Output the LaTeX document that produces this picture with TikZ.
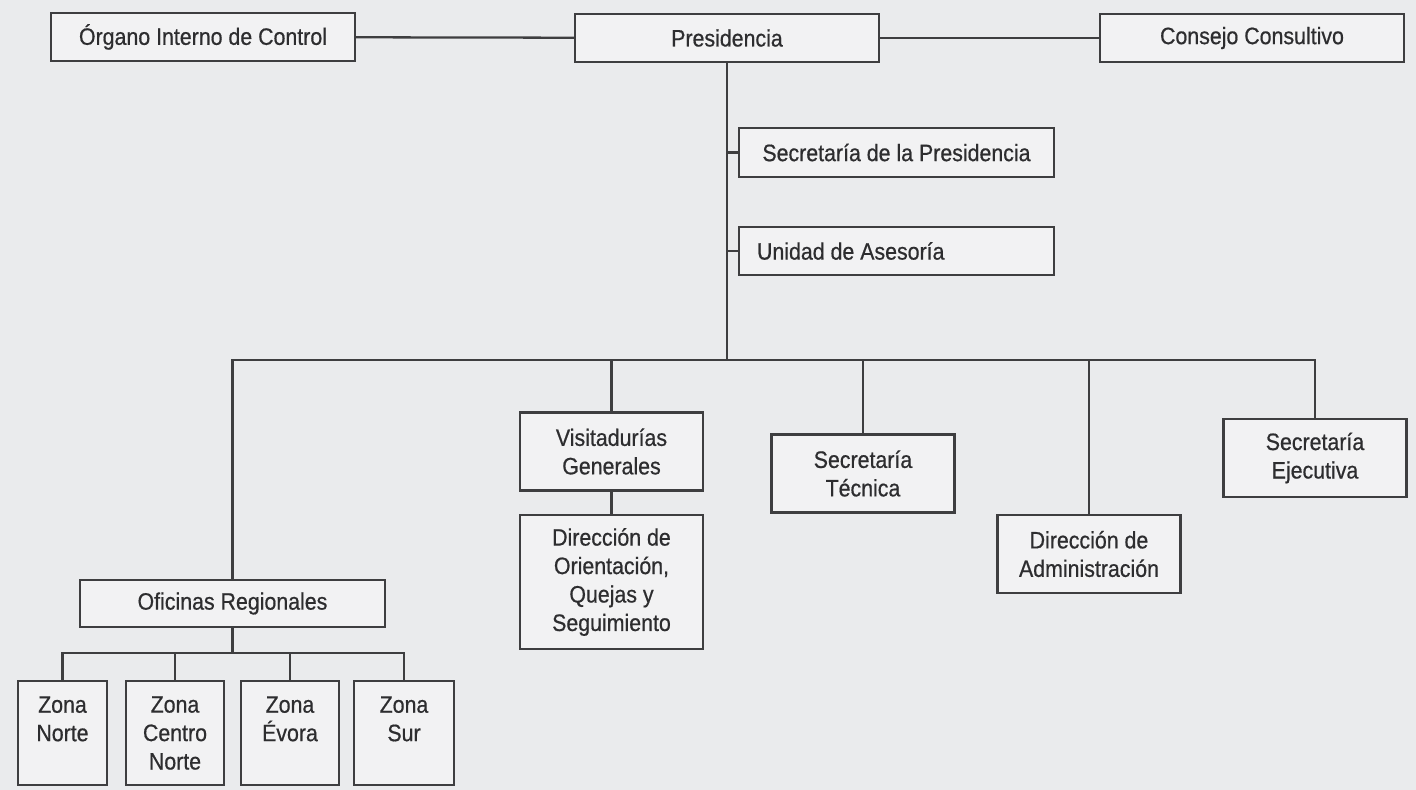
\documentclass[tikz,border=0pt]{standalone}
\usepackage{fontspec}
\usepackage{tikz}
\newfontfamily\orgfont{Liberation Sans}[FakeStretch=0.9,FakeBold=0.6]
\definecolor{fondo}{RGB}{234,235,237}
\definecolor{relleno}{RGB}{242,242,243}
\definecolor{linea}{RGB}{62,62,64}
\definecolor{texto}{RGB}{45,45,47}

\tikzset{
  caja/.style={draw=linea, line width=1.3pt, fill=relleno, text=texto,
    font=\orgfont\fontsize{13.5}{16.2}\selectfont, align=center, inner sep=0pt},
  cajatop/.style={caja, minimum width=6.08cm, minimum height=0.96cm},
  cajamed/.style={caja, minimum width=3.66cm, minimum height=1.56cm},
  zona/.style={caja, minimum height=2.08cm},
  rama/.style={draw=linea, line width=1.3pt}
}

\begin{document}
\begin{tikzpicture}[x=0.02cm, y=-0.02cm]
		\fill[fondo] (0,0) rectangle (1416,790);
		\useasboundingbox (0,0) rectangle (1416,790);

		% Primera fila
		\node[cajatop] (organo)  at (203,37)  {Órgano Interno de Control};
		\node[cajatop] (pres)    at (727,38)  {Presidencia};
		\node[cajatop] (consejo) at (1252,38) {Consejo Consultivo};

		% Apoyo de la presidencia
		\node[caja, minimum width=6.3cm, minimum height=0.98cm] (secpres) at (896.5,152.5) {Secretaría de la Presidencia};
		\node[caja, text width=5.58cm, inner xsep=0.36cm, minimum height=0.96cm, align=flush left] (unidad) at (896.5,251) {Unidad de Asesoría};

		% Segundo nivel
		\node[cajamed] (visit)   at (611.5,451.5) {Visitadurías\\Generales};
		\node[cajamed, minimum height=2.68cm] (dirqs) at (611.5,582) {Dirección de\\Orientación,\\Quejas y\\Seguimiento};
		\node[cajamed] (sectec)  at (863,473.5) {Secretaría\\Técnica};
		\node[cajamed] (diradm)  at (1089,554)  {Dirección de\\Administración};
		\node[cajamed] (secejec) at (1315,458)  {Secretaría\\Ejecutiva};
		\node[caja, minimum width=6.1cm, minimum height=0.94cm] (ofi) at (232.5,603.5) {Oficinas Regionales};

		% Zonas
		\node[zona, minimum width=1.78cm] (zn)   at (62.5,733) {Zona\\Norte\\\phantom{N}};
		\node[zona, minimum width=1.96cm] (zcn)  at (175,733)  {Zona\\Centro\\Norte};
		\node[zona, minimum width=1.96cm] (zev)  at (290,733)  {Zona\\Évora\\\phantom{N}};
		\node[zona, minimum width=2.0cm]  (zsur) at (404,733)  {Zona\\Sur\\\phantom{N}};

		% Puntos de las barras
		\path (pres.south) ++(0,297) coordinate (bus);
		\path (ofi.south) ++(0,25) coordinate (zb);

		\draw[rama] (organo) -- (pres);
		\draw[rama] (pres) -- (consejo);
		\draw[rama] (pres.south) -- (bus);
		\draw[rama] (secpres.west) -- (secpres.west -| pres.south);
		\draw[rama] (unidad.west) -- (unidad.west -| pres.south);
		\draw[rama] (ofi.north) |- (bus) -| (secejec.north);
		\draw[rama] (visit.north) -- (visit.north |- bus);
		\draw[rama] (sectec.north) -- (sectec.north |- bus);
		\draw[rama] (diradm.north) -- (diradm.north |- bus);
		\draw[rama] (visit) -- (dirqs);
		\draw[rama] (ofi.south) -- (zb);
		\draw[rama] (zn.north) |- (zb) -| (zsur.north);
		\draw[rama] (zcn.north) -- (zcn.north |- zb);
		\draw[rama] (zev.north) -- (zev.north |- zb);
\end{tikzpicture}
\end{document}
